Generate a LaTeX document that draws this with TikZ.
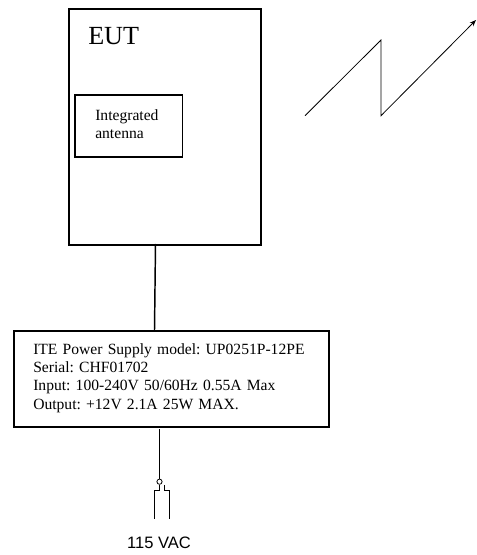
\documentclass[tikz,border=0pt]{standalone}
\usepackage{fontspec}
\usetikzlibrary{arrows.meta}
\setmainfont{Liberation Serif}
\newfontfamily\arialf{Liberation Sans}
\tikzset{
  x=0.75pt,y=-0.75pt,
  boxs/.style={draw=black,line width=1.5pt,fill=none,inner sep=0pt,anchor=north west},
  wire/.style={draw=black,line width=1.1pt},
  thinwire/.style={draw=black,line width=0.6pt},
  lab/.style={anchor=west,inner sep=0pt,align=left},
}
\begin{document}
\frenchspacing
\begin{tikzpicture}
\useasboundingbox (0,0) rectangle (476,555);
\node[boxs,minimum width=192.5*0.75pt,minimum height=235.5*0.75pt] (eut) at (67.5,8.5) {};
\node[boxs,line width=1.2pt,minimum width=107.5*0.75pt,minimum height=62*0.75pt] (ant) at (74,94) {};
\node[boxs,minimum width=315*0.75pt,minimum height=96*0.75pt] (psu) at (12.5,330) {};
\node[lab,font=\fontsize{19.6}{21}\selectfont] (eutl) at (88,36) {EUT};
\node[lab,font=\fontsize{11.7}{13.75}\selectfont,text width=80pt] (antl) at (95,124.5) {Integrated\\antenna};
\node[lab,font=\fontsize{11.7}{13.75}\selectfont,text width=280pt] (psul) at (33,378) {ITE Power Supply model: UP0251P-12PE\\Serial: CHF01702\\Input: 100-240V 50/60Hz 0.55A Max\\Output: +12V 2.1A 25W MAX.};
\node[font=\arialf\fontsize{12.4}{14}\selectfont,inner sep=0pt] (vac) at (159,543) {115 VAC};
\coordinate (e1) at (155.5,244);
\coordinate (p1) at (154.5,330);
\draw[wire] (e1) -- (p1);
\coordinate (s0) at (159.5,429);
\node[circle,draw=black,line width=0.6pt,minimum size=5.2*0.75pt,inner sep=0pt] (plug) at (159.5,481.7) {};
\draw[thinwire] (s0) -- (plug.north);
\coordinate (la) at (154.2,519);
\coordinate (ra) at (169.7,519);
\draw[thinwire] (plug.south) -- (159.5,490.7) -| (la);
\draw[thinwire] (164.3,485) |- (169.7,490.7) -- (ra);
\coordinate (z0) at (305,115.7);
\coordinate (z1) at (381,40);
\coordinate (z2) at (381,115.7);
\coordinate (z3) at (476,20);
\draw[thinwire,line join=miter,-{Stealth[length=6.5*0.75pt,width=5*0.75pt]}] (z0) -- (z1) -- (z2) -- (z3);
\end{tikzpicture}
\end{document}
